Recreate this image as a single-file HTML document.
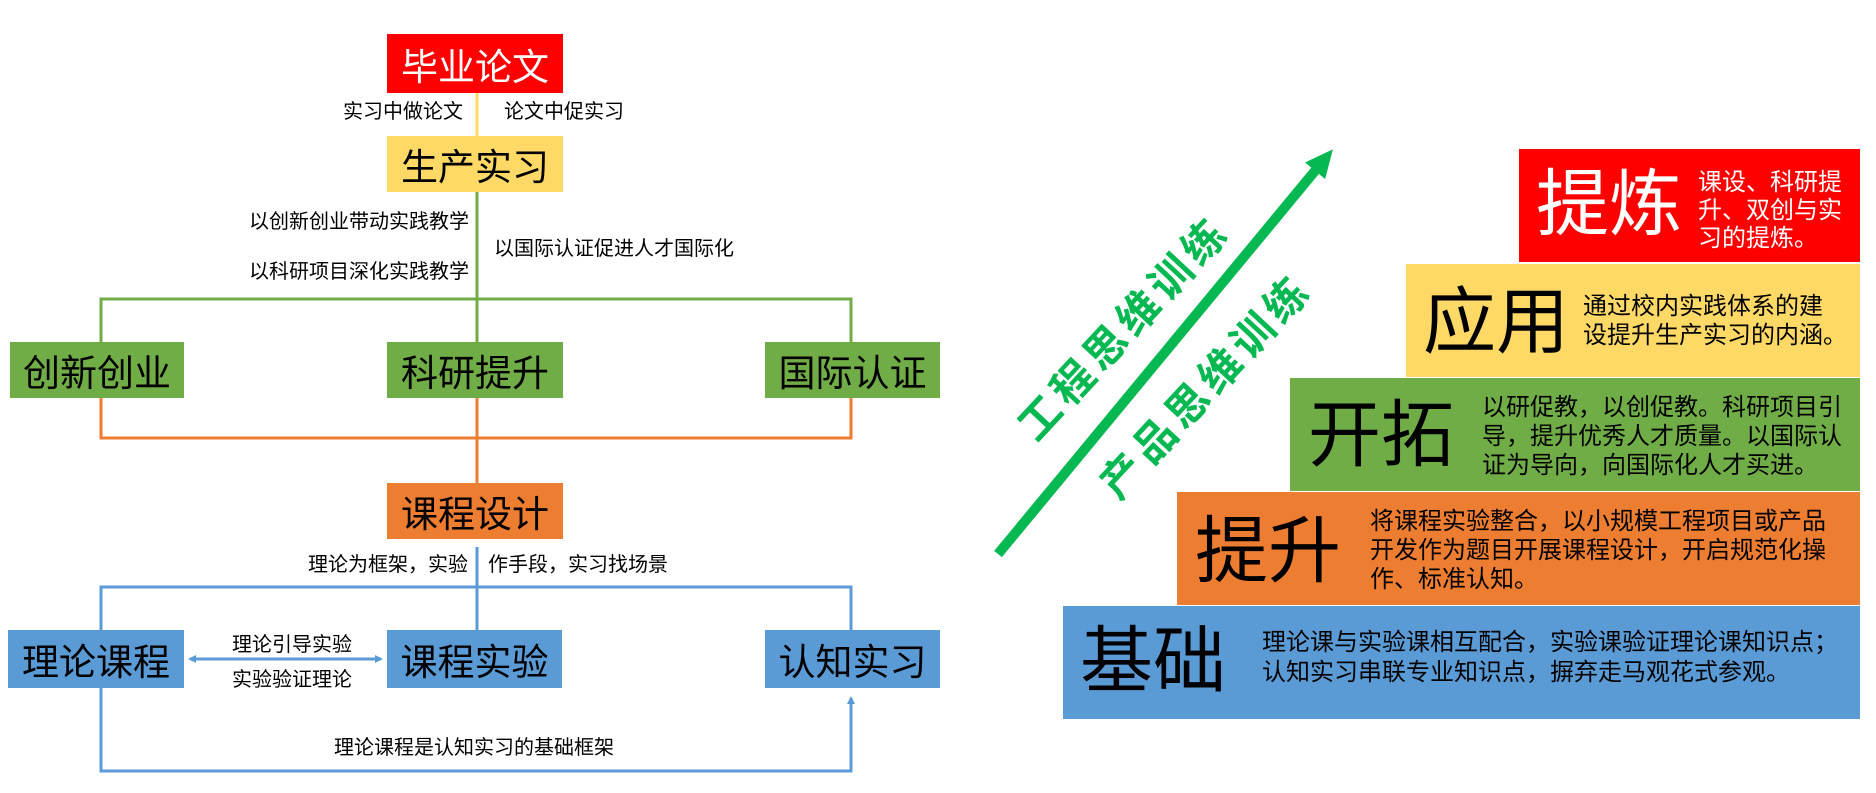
<!DOCTYPE html>
<html><head><meta charset="utf-8"><style>
body{margin:0;width:1876px;height:793px;background:#fff;position:relative;overflow:hidden;font-family:"Liberation Sans","Noto Sans CJK SC",sans-serif;}
.b{position:absolute;display:flex;align-items:center;justify-content:center;font-size:37px;color:#000;}
.t{position:absolute;font-size:20px;line-height:22px;white-space:nowrap;color:#000;}
.s{position:absolute;}
.big{position:absolute;font-size:73px;line-height:73px;white-space:nowrap;}
.d{position:absolute;font-size:24px;white-space:nowrap;color:#000;}
.rt{position:absolute;font-size:42px;font-weight:bold;color:#06B852;white-space:nowrap;letter-spacing:6px;transform:translate(-50%,-50%) rotate(-47deg);}
</style></head><body>
<svg class="s" width="1876" height="793" style="left:0;top:0">
<defs>
<marker id="ab" markerWidth="8" markerHeight="8" refX="6" refY="4" orient="auto" markerUnits="userSpaceOnUse"><path d="M0,0 L8,4 L0,8z" fill="#5B9BD5"/></marker>
<marker id="ab2" markerWidth="8" markerHeight="8" refX="2" refY="4" orient="auto" markerUnits="userSpaceOnUse"><path d="M8,0 L0,4 L8,8z" fill="#5B9BD5"/></marker>
<marker id="ga" markerWidth="30" markerHeight="30" refX="14" refY="15" orient="auto" markerUnits="userSpaceOnUse"><path d="M0,2 L28,15 L0,28z" fill="#06B852"/></marker>
</defs>
<line x1="477" y1="93" x2="477" y2="136" stroke="#FFD966" stroke-width="3"/>
<line x1="477" y1="192" x2="477" y2="342" stroke="#70AD47" stroke-width="3"/>
<polyline points="101,342 101,299 851,299 851,342" fill="none" stroke="#70AD47" stroke-width="3"/>
<polyline points="101,398 101,438 851,438 851,398" fill="none" stroke="#ED7D31" stroke-width="3"/>
<line x1="477" y1="398" x2="477" y2="483" stroke="#ED7D31" stroke-width="3"/>
<line x1="477" y1="547" x2="477" y2="630" stroke="#5B9BD5" stroke-width="3"/>
<polyline points="101,630 101,587 851,587 851,630" fill="none" stroke="#5B9BD5" stroke-width="3"/>
<line x1="190" y1="659" x2="381" y2="659" stroke="#5B9BD5" stroke-width="3" marker-end="url(#ab)" marker-start="url(#ab2)"/>
<polyline points="101,688 101,771 851,771 851,698" fill="none" stroke="#5B9BD5" stroke-width="3" marker-end="url(#ab)"/>
<line x1="998" y1="554" x2="1324" y2="160" stroke="#06B852" stroke-width="10" marker-end="url(#ga)"/>
</svg>
<div class="b" style="left:387px;top:34px;width:176px;height:59px;background:#FF0000;color:#fff">毕业论文</div>
<div class="t" style="left:343px;top:101px">实习中做论文</div>
<div class="t" style="left:504px;top:101px">论文中促实习</div>
<div class="b" style="left:387px;top:136px;width:176px;height:56px;background:#FFD966">生产实习</div>
<div class="t" style="left:249px;top:211px">以创新创业带动实践教学</div>
<div class="t" style="left:249px;top:261px">以科研项目深化实践教学</div>
<div class="t" style="left:494px;top:238px">以国际认证促进人才国际化</div>
<div class="b" style="left:10px;top:342px;width:174px;height:56px;background:#70AD47">创新创业</div>
<div class="b" style="left:387px;top:342px;width:176px;height:56px;background:#70AD47">科研提升</div>
<div class="b" style="left:765px;top:342px;width:175px;height:56px;background:#70AD47">国际认证</div>
<div class="b" style="left:387px;top:483px;width:176px;height:56px;background:#ED7D31">课程设计</div>
<div class="t" style="left:308px;top:554px">理论为框架，实验</div>
<div class="t" style="left:488px;top:554px">作手段，实习找场景</div>
<div class="b" style="left:8px;top:630px;width:176px;height:58px;background:#5B9BD5">理论课程</div>
<div class="b" style="left:387px;top:630px;width:175px;height:58px;background:#5B9BD5">课程实验</div>
<div class="b" style="left:765px;top:630px;width:175px;height:58px;background:#5B9BD5">认知实习</div>
<div class="t" style="left:232px;top:634px">理论引导实验</div>
<div class="t" style="left:232px;top:669px">实验验证理论</div>
<div class="t" style="left:334px;top:737px">理论课程是认知实习的基础框架</div>

<div class="rt" style="left:1122px;top:326px">工程思维训练</div>
<div class="rt" style="left:1204px;top:384px">产品思维训练</div>

<div class="s" style="left:1519px;top:149px;width:341px;height:113px;background:#FF0000"></div>
<div class="s" style="left:1406px;top:264px;width:454px;height:113px;background:#FFD966"></div>
<div class="s" style="left:1290px;top:378px;width:570px;height:113px;background:#70AD47"></div>
<div class="s" style="left:1177px;top:492px;width:683px;height:113px;background:#ED7D31"></div>
<div class="s" style="left:1063px;top:606px;width:797px;height:113px;background:#5B9BD5"></div>

<div class="big" style="left:1536px;top:168px;color:#fff">提炼</div>
<div class="d" style="left:1698px;top:169px;line-height:28px;color:#fff">课设、科研提<br>升、双创与实<br>习的提炼。</div>
<div class="big" style="left:1423px;top:286px">应用</div>
<div class="d" style="left:1583px;top:292px;line-height:29px">通过校内实践体系的建<br>设提升生产实习的内涵。</div>
<div class="big" style="left:1308px;top:399px">开拓</div>
<div class="d" style="left:1482px;top:393px;line-height:29px">以研促教，以创促教。科研项目引<br>导，提升优秀人才质量。以国际认<br>证为导向，向国际化人才买进。</div>
<div class="big" style="left:1195px;top:515px">提升</div>
<div class="d" style="left:1370px;top:507px;line-height:29px">将课程实验整合，以小规模工程项目或产品<br>开发作为题目开展课程设计，开启规范化操<br>作、标准认知。</div>
<div class="big" style="left:1080px;top:625px">基础</div>
<div class="d" style="left:1262px;top:628px;line-height:30px">理论课与实验课相互配合，实验课验证理论课知识点；<br>认知实习串联专业知识点，摒弃走马观花式参观。</div>
</body></html>
